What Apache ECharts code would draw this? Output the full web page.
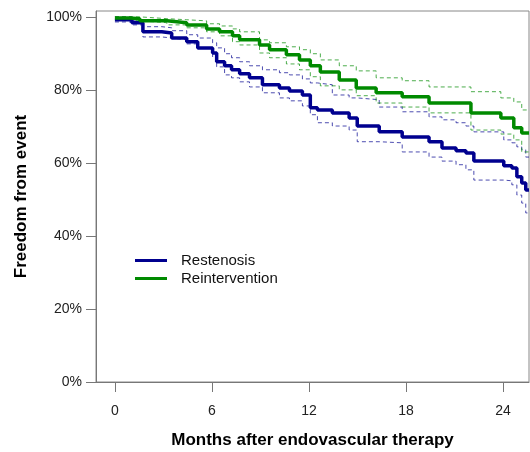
<!DOCTYPE html>
<html>
<head>
<meta charset="utf-8">
<script src="https://cdn.jsdelivr.net/npm/echarts@6/dist/echarts.min.js"></script>
<style>
html,body{margin:0;padding:0;background:#fff;}
#chart{width:530px;height:452px;}
</style>
</head>
<body>
<div id="chart"></div>
<script>
// ---- Data ----
const xTicks = [0, 6, 12, 18, 24];
const yTicks = [0, 20, 40, 60, 80, 100];

// Restenosis: Kaplan-Meier estimate with 95% CI (months, %)
const restTimes = [0, 1.05, 1.73, 2.90, 3.51, 4.44, 5.12, 6.04, 6.29, 6.78, 7.21, 7.71, 8.32, 9.12, 10.17, 10.79, 11.59, 12.08, 12.52, 13.44, 14.48, 14.98, 16.34, 17.76, 19.42, 20.22, 21.09, 21.70, 22.19, 24.04, 24.54, 24.85, 25.15, 25.40, 25.6];
const restSurv  = [99.2, 98.4, 95.9, 95.6, 94.2, 93.2, 91.5, 90.1, 87.7, 86.6, 85.5, 84.4, 83.3, 81.4, 80.5, 79.7, 78.6, 75.1, 74.5, 73.7, 72.3, 70.1, 68.5, 67.1, 65.8, 64.1, 63.3, 62.7, 60.5, 59.2, 58.6, 56.2, 54.5, 52.6, 52.6];
const restUpper = [100, 98.9, 97.3, 97.0, 96.2, 95.1, 94.2, 92.9, 91.5, 89.9, 88.8, 87.7, 86.6, 85.5, 84.7, 84.1, 83.0, 81.9, 81.4, 78.6, 77.8, 77.3, 75.3, 74.0, 72.6, 71.8, 71.0, 70.1, 68.5, 66.3, 65.5, 64.4, 63.6, 61.6, 61.6];
const restLower = [98.6, 97.8, 94.5, 94.2, 93.7, 92.6, 91.5, 89.0, 86.3, 84.1, 83.3, 82.2, 80.8, 79.2, 77.8, 77.0, 75.6, 73.2, 71.0, 70.1, 69.0, 65.8, 65.5, 63.0, 61.6, 60.5, 59.5, 58.1, 55.3, 55.1, 54.0, 51.2, 49.0, 46.3, 46.3];

// Reintervention: Kaplan-Meier estimate with 95% CI (months, %)
const reintTimes = [0, 0.92, 1.54, 3.21, 4.44, 5.67, 6.47, 7.27, 7.71, 8.94, 9.56, 10.60, 11.41, 12.08, 12.70, 13.87, 14.92, 16.15, 17.76, 19.42, 22.01, 23.86, 24.66, 25.15, 25.6];
const reintSurv  = [99.7, 99.5, 98.9, 98.4, 97.8, 96.7, 95.9, 94.8, 93.7, 92.3, 91.0, 89.6, 88.2, 86.6, 84.9, 82.7, 80.5, 79.2, 78.1, 76.4, 73.7, 72.3, 69.6, 68.2, 68.2];
const reintUpper = [100, 100, 99.5, 99.2, 98.9, 98.1, 97.5, 96.7, 95.9, 93.7, 92.9, 91.8, 91.0, 89.9, 88.2, 86.6, 85.2, 83.3, 82.5, 80.8, 79.5, 77.8, 76.7, 74.5, 74.5];
const reintLower = [99.2, 98.9, 98.4, 97.8, 97.0, 95.9, 94.8, 93.2, 92.3, 90.1, 88.8, 87.1, 85.5, 83.6, 81.1, 80.0, 78.4, 76.4, 75.3, 73.7, 69.0, 67.9, 66.3, 63.0, 63.0];

const seriesNames = ['Restenosis', 'Reintervention'];

// ---- Build ----
const zip = (t, v) => t.map((x, i) => [x, v[i]]);
const NAVY = '#00008f';
const GREEN = '#008a00';
const FONT = "'Liberation Sans', Arial, sans-serif";

function ciSeries(name, t, v, color) {
  return {
    name: name, type: 'line', step: 'end', showSymbol: false, silent: true,
    data: zip(t, v), z: 2,
    lineStyle: { color: color, width: 1, type: [4, 3], opacity: 0.7 },
    itemStyle: { color: color }
  };
}
function mainSeries(name, t, v, color) {
  return {
    name: name, type: 'line', step: 'end', showSymbol: false,
    data: zip(t, v), z: 3,
    lineStyle: { color: color, width: 3.5 },
    itemStyle: { color: color }
  };
}

const chart = echarts.init(document.getElementById('chart'), null, { renderer: 'canvas' });
chart.setOption({
  animation: false,
  backgroundColor: '#fff',
  textStyle: { fontFamily: FONT },
  grid: { left: 96, right: 1, top: 11, bottom: 70, outerBoundsMode: 'none', containLabel: false, show: true, borderColor: '#888', borderWidth: 1, backgroundColor: 'transparent' },
  legend: {
    data: seriesNames,
    orient: 'vertical',
    left: 130, top: 248,
    itemWidth: 32, itemHeight: 3, itemGap: 3,
    icon: 'rect',
    textStyle: { fontSize: 15, color: '#111', fontFamily: FONT, padding: [0, 0, 0, 9] }
  },
  xAxis: {
    type: 'value', min: -1.17, max: 25.6,
    name: 'Months after endovascular therapy',
    nameLocation: 'middle', nameGap: 50,
    nameTextStyle: { fontSize: 17, fontWeight: 'bold', color: '#000', fontFamily: FONT },
    axisLine: { show: true, onZero: false, lineStyle: { color: '#777', width: 1 } },
    axisTick: { show: true, length: 10, lineStyle: { color: '#777' }, customValues: xTicks },
    axisLabel: { fontSize: 14, color: '#222', margin: 22, customValues: xTicks, fontFamily: FONT },
    splitLine: { show: false }
  },
  yAxis: {
    type: 'value', min: 0, max: 101.6,
    name: 'Freedom from event',
    nameLocation: 'middle', nameGap: 66, nameRotate: 90,
    nameTextStyle: { fontSize: 17, fontWeight: 'bold', color: '#000', fontFamily: FONT },
    axisLine: { show: true, onZero: false, lineStyle: { color: '#777', width: 1 } },
    axisTick: { show: true, length: 10, lineStyle: { color: '#777' }, customValues: yTicks },
    axisLabel: { fontSize: 14, color: '#222', margin: 14, formatter: '{value}%', customValues: yTicks, fontFamily: FONT },
    splitLine: { show: false }
  },
  series: [
    ciSeries('Restenosis CI upper', restTimes, restUpper, NAVY),
    ciSeries('Restenosis CI lower', restTimes, restLower, NAVY),
    ciSeries('Reintervention CI upper', reintTimes, reintUpper, GREEN),
    ciSeries('Reintervention CI lower', reintTimes, reintLower, GREEN),
    mainSeries(seriesNames[0], restTimes, restSurv, NAVY),
    mainSeries(seriesNames[1], reintTimes, reintSurv, GREEN)
  ]
});
</script>
</body>
</html>
